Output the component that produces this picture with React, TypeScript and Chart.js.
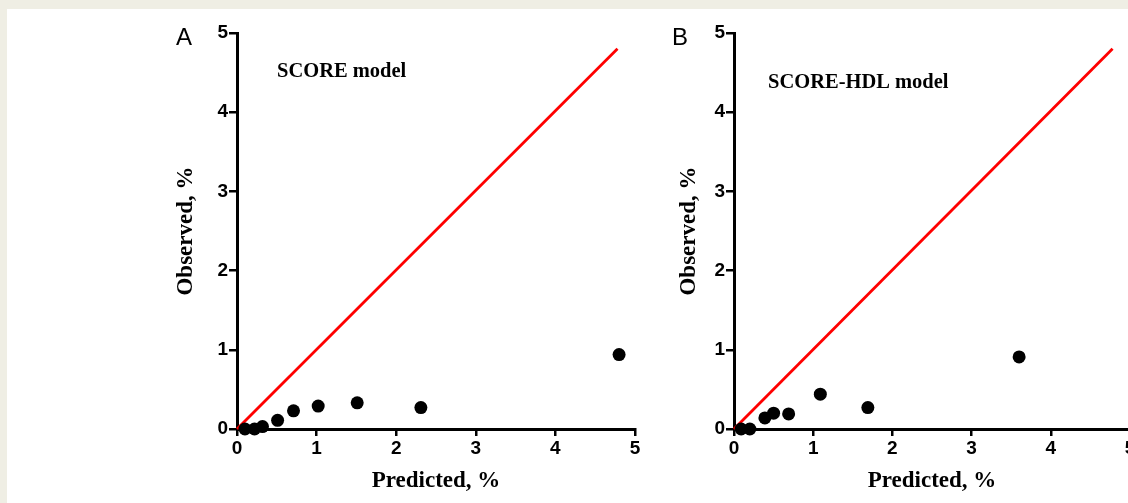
import React, { useEffect, useRef } from "react";
import { Chart, registerables } from "chart.js";

Chart.register(...registerables);

// ---- data ----
const axisTicks = [0, 1, 2, 3, 4, 5];
const panelLetters = ["A", "B"];
const modelTitles = ["SCORE model", "SCORE-HDL model"];
const xAxisTitle = "Predicted, %";
const yAxisTitle = "Observed, %";

const scorePredicted = [0.1, 0.22, 0.32, 0.51, 0.71, 1.02, 1.51, 2.31, 4.8];
const scoreObserved = [0, 0, 0.03, 0.11, 0.23, 0.29, 0.33, 0.27, 0.94];

const hdlPredicted = [0.09, 0.2, 0.39, 0.5, 0.69, 1.09, 1.69, 3.6];
const hdlObserved = [0, 0, 0.14, 0.2, 0.19, 0.44, 0.27, 0.91];

const identityLineX = [0, 4.78];
const identityLineY = [0, 4.8];

// ---- layout constants ----
const H = 503;
type Geom = {
  canvasLeft: number;
  canvasWidth: number;
  yAxisWidth: number;
  padRight: number;
  padTop: number;
  xAxisHeight: number;
  yTitlePad: number;
  letterX: number;
  letterY: number;
  titleX: number;
  titleY: number;
};

const geomA: Geom = {
  canvasLeft: 0,
  canvasWidth: 660,
  yAxisWidth: 237,
  padRight: 25,
  padTop: 33,
  xAxisHeight: 74,
  yTitlePad: 172,
  letterX: 176,
  letterY: 45,
  titleX: 277,
  titleY: 77,
};

const geomB: Geom = {
  canvasLeft: 660,
  canvasWidth: 480,
  yAxisWidth: 74,
  padRight: 10,
  padTop: 33,
  xAxisHeight: 74,
  yTitlePad: 15,
  letterX: 12,
  letterY: 45,
  titleX: 108,
  titleY: 88,
};

const tickFont = { family: '"Liberation Sans", Arial, sans-serif', size: 19, weight: "bold" as const };
const titleFont = { family: '"Liberation Serif", "Times New Roman", serif', size: 23, weight: "bold" as const };

function buildConfig(
  xs: number[],
  ys: number[],
  letter: string,
  title: string,
  g: Geom
): any {
  const points = xs.map((x, i) => ({ x, y: ys[i] }));
  const line = identityLineX.map((x, i) => ({ x, y: identityLineY[i] }));

  const textPlugin = {
    id: "panelText" + letter,
    afterDraw(chart: any) {
      const ctx = chart.ctx;
      ctx.save();
      ctx.fillStyle = "#000";
      ctx.textBaseline = "alphabetic";
      ctx.textAlign = "left";
      ctx.font = '24px "Liberation Sans", Arial, sans-serif';
      ctx.fillText(letter, g.letterX, g.letterY);
      ctx.font = 'bold 20.5px "Liberation Serif", "Times New Roman", serif';
      ctx.fillText(title, g.titleX, g.titleY);
      ctx.restore();
    },
  };

  return {
    type: "scatter",
    data: {
      datasets: [
        {
          label: "observed",
          data: points,
          pointRadius: 6.5,
          pointHoverRadius: 6.5,
          backgroundColor: "#000",
          borderColor: "#000",
          borderWidth: 0,
          clip: false,
        },
        {
          label: "identity",
          data: line,
          showLine: true,
          borderColor: "#ff0000",
          borderWidth: 2.8,
          pointRadius: 0,
          pointHoverRadius: 0,
          clip: false,
        },
      ],
    },
    options: {
      responsive: false,
      animation: false,
      events: [],
      layout: { padding: { left: 0, top: g.padTop, right: g.padRight, bottom: 0 } },
      plugins: {
        legend: { display: false },
        tooltip: { enabled: false },
      },
      scales: {
        x: {
          type: "linear",
          min: 0,
          max: 5,
          afterBuildTicks(scale: any) {
            scale.ticks = axisTicks.map((v) => ({ value: v }));
          },
          ticks: { color: "#000", font: tickFont, padding: 1, maxRotation: 0 },
          grid: {
            drawOnChartArea: false,
            drawTicks: true,
            tickLength: 7,
            color: "#000",
            lineWidth: 2.5,
          },
          border: { display: true, color: "#000", width: 3 },
          title: {
            display: true,
            text: xAxisTitle,
            color: "#000",
            font: titleFont,
            padding: { top: 0, bottom: 8 },
          },
          afterFit(scale: any) {
            scale.height = g.xAxisHeight;
          },
        },
        y: {
          type: "linear",
          min: 0,
          max: 5,
          afterBuildTicks(scale: any) {
            scale.ticks = axisTicks.map((v) => ({ value: v }));
          },
          ticks: { color: "#000", font: tickFont, padding: 1 },
          grid: {
            drawOnChartArea: false,
            drawTicks: true,
            tickLength: 8,
            color: "#000",
            lineWidth: 2.5,
          },
          border: { display: true, color: "#000", width: 3 },
          title: {
            display: true,
            text: yAxisTitle,
            color: "#000",
            font: titleFont,
            padding: { top: g.yTitlePad, bottom: 0 },
          },
          afterFit(scale: any) {
            scale.width = g.yAxisWidth;
          },
        },
      },
    },
    plugins: [textPlugin],
  };
}

function Panel(props: { xs: number[]; ys: number[]; letter: string; title: string; g: Geom }) {
  const ref = useRef<HTMLCanvasElement | null>(null);
  useEffect(() => {
    if (!ref.current) return;
    const chart = new Chart(ref.current, buildConfig(props.xs, props.ys, props.letter, props.title, props.g));
    return () => chart.destroy();
  }, []);
  return (
    <canvas
      ref={ref}
      width={props.g.canvasWidth}
      height={H}
      style={{
        position: "absolute",
        left: props.g.canvasLeft,
        top: 0,
        width: props.g.canvasWidth,
        height: H,
      }}
    />
  );
}

export default function App() {
  return (
    <div
      style={{
        position: "fixed",
        left: 0,
        top: 0,
        width: 1128,
        height: H,
        overflow: "hidden",
        background: "#efeee4",
      }}
    >
      <div
        style={{
          position: "absolute",
          left: 7,
          top: 9,
          right: 0,
          bottom: 0,
          background: "#ffffff",
        }}
      />
      <Panel xs={scorePredicted} ys={scoreObserved} letter={panelLetters[0]} title={modelTitles[0]} g={geomA} />
      <Panel xs={hdlPredicted} ys={hdlObserved} letter={panelLetters[1]} title={modelTitles[1]} g={geomB} />
    </div>
  );
}
